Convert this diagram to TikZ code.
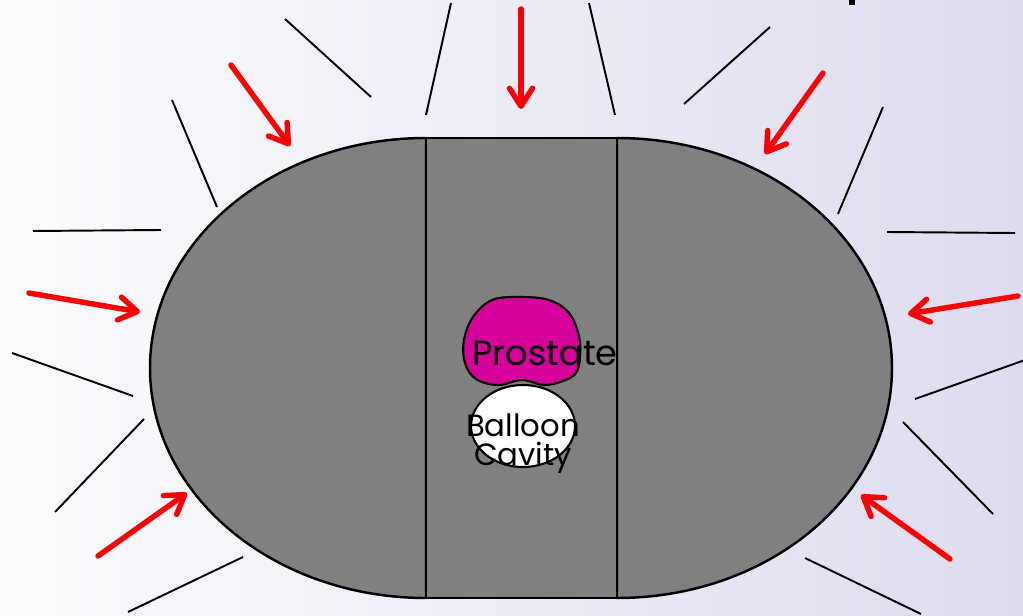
\documentclass[tikz,border=0pt]{standalone}
\usepackage{fontspec}
\setmainfont{Poppins}
\usetikzlibrary{arrows.meta}
\definecolor{bgleft}{HTML}{FCFCFE}
\definecolor{bgright}{HTML}{DDDCEE}
\definecolor{tissue}{HTML}{808080}
\definecolor{gland}{HTML}{D6009A}
\tikzset{
  body/.style={fill=tissue, draw=black, line width=1.4pt, line join=round},
  ray/.style={draw=black, line width=1.1pt},
  beam/.style={draw=red, line width=3.1pt, line cap=round,
    -{Straight Barb[length=0.36cm, width=0.46cm, line cap=round, line join=round]}},
  label/.style={inner sep=0pt, font=\fontsize{20pt}{22pt}\selectfont},
}
\begin{document}
\begin{tikzpicture}[x=0.02cm, y=-0.02cm]
  % page background with a soft left-to-right tint
  \shade[left color=bgleft, right color=bgright] (0,0) rectangle (1023,615);
  \useasboundingbox (0,0) rectangle (1023,615);
  \clip (0,0) rectangle (1023,615);

  % fragment of a heading at the top edge
  \fill[black] (849,0) rectangle (855,5);

  % patient cross-section: two half ellipses and a central slab
  \path[body] (426,138) arc[start angle=270, end angle=90, x radius=276, y radius=230] -- cycle;
  \path[body] (617,138) arc[start angle=-90, end angle=90, x radius=275, y radius=230] -- cycle;
  \path[body] (426,138) rectangle (617,598);

  % prostate and balloon
  \draw[fill=gland, line width=1.2pt] plot[smooth cycle, tension=0.6] coordinates {
    (492,300) (520,297) (549,300) (569,313) (579,336) (580,357) (576,373)
    (563,381) (544,385) (522,380) (498,385) (476,379) (465,363) (464,340) (473,317)};
  \draw[fill=white, line width=1.2pt] (523,426) ellipse[x radius=52, y radius=41];

  \node[label, anchor=base] (prostate) at (545,365) {Prostate};
  \node[label, anchor=north, align=center,
        font=\fontsize{17.5pt}{17pt}\selectfont] (balloon) at (523,413) {Balloon\\Cavity};

  % scattered rays around the body
  \draw[ray] (285,19) -- (371,97);
  \draw[ray] (172,100) -- (217,207);
  \draw[ray] (33,231) -- (161,230);
  \draw[ray] (12,353) -- (133,396);
  \draw[ray] (55,512) -- (144,419);
  \draw[ray] (128,612) -- (243,557);
  \draw[ray] (451,3) -- (426,115);
  \draw[ray] (589,3) -- (615,115);
  \draw[ray] (770,27) -- (684,104);
  \draw[ray] (883,107) -- (838,214);
  \draw[ray] (887,232) -- (1015,233);
  \draw[ray] (915,399) -- (1025,360);
  \draw[ray] (903,422) -- (993,514);
  \draw[ray] (805,558) -- (921,614);

  % incoming beams
  \draw[beam] (231,65) -- (290,146);
  \draw[beam] (521,9) -- (521,109);
  \draw[beam] (823,73) -- (765,154);
  \draw[beam] (1018,296) -- (908,314);
  \draw[beam] (950,559) -- (861,495);
  \draw[beam] (29,293) -- (140,312);
  \draw[beam] (98,556) -- (187,493);
\end{tikzpicture}
\end{document}
